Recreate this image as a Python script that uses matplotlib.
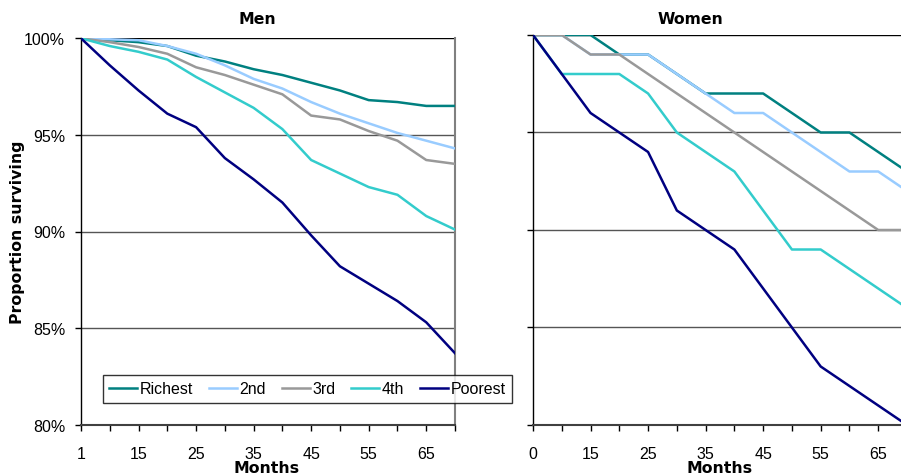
import numpy as np
import matplotlib.pyplot as plt

plt.rcParams['font.family'] = ['Liberation Sans', 'DejaVu Sans']

# categorias del eje x (eje de categorias estilo Excel)
meses_hombres = ['1', '10', '15', '20', '25', '30', '35', '40', '45', '50', '55', '60', '65', '70']
meses_mujeres = ['0', '10', '15', '20', '25', '30', '35', '40', '45', '50', '55', '60', '65', '70']

grupos = ['Richest', '2nd', '3rd', '4th', 'Poorest']
colores = ['#008080', '#99CCFF', '#999999', '#33CCCC', '#000080']

# proporcion sobreviviente (%) - hombres
hombres = {
    'Richest': [100, 99.9, 99.8, 99.6, 99.1, 98.8, 98.4, 98.1, 97.7, 97.3, 96.8, 96.7, 96.5, 96.5],
    '2nd':     [100, 99.95, 99.9, 99.6, 99.2, 98.6, 97.9, 97.4, 96.7, 96.1, 95.6, 95.1, 94.7, 94.3],
    '3rd':     [100, 99.8, 99.55, 99.2, 98.5, 98.1, 97.6, 97.1, 96.0, 95.8, 95.2, 94.7, 93.7, 93.5],
    '4th':     [100, 99.6, 99.3, 98.9, 98.0, 97.2, 96.4, 95.3, 93.7, 93.0, 92.3, 91.9, 90.8, 90.1],
    'Poorest': [100, 98.6, 97.3, 96.1, 95.4, 93.8, 92.7, 91.5, 89.8, 88.2, 87.3, 86.4, 85.3, 83.7],
}

# proporcion sobreviviente (%) - mujeres
mujeres = {
    'Richest': [100, 100, 100, 99, 99, 98, 97, 97, 97, 96, 95, 95, 94, 93],
    '2nd':     [100, 100, 99, 99, 99, 98, 97, 96, 96, 95, 94, 93, 93, 92],
    '3rd':     [100, 100, 99, 99, 98, 97, 96, 95, 94, 93, 92, 91, 90, 90],
    '4th':     [100, 98, 98, 98, 97, 95, 94, 93, 91, 89, 89, 88, 87, 86],
    'Poorest': [100, 98, 96, 95, 94, 91, 90, 89, 87, 85, 83, 82, 81, 80],
}

W, H = 901, 477
fig = plt.figure(figsize=(W / 100, H / 100), dpi=100)

ax1 = fig.add_axes([81 / W, 1 - 425.7 / H, 374 / W, 386.4 / H])
ax2 = fig.add_axes([533 / W, 1 - 426 / H, 374 / W, 390 / H])

negrita = dict(family='DejaVu Sans', fontweight='bold', fontsize=11.3)


def dibujar(ax, datos, etiquetas, con_ylabels):
    x = np.arange(len(etiquetas))
    for g, c in zip(grupos, colores):
        ax.plot(x, datos[g], color=c, lw=1.8, label=g, zorder=3)
    ax.set_xlim(0, len(etiquetas) - 1)
    ax.set_ylim(80, 100)
    ax.set_xticks(x)
    ax.set_xticklabels([e if (i % 2 == 0) else '' for i, e in enumerate(etiquetas)])
    ax.set_yticks([80, 85, 90, 95, 100])
    if con_ylabels:
        ax.set_yticklabels(['80%', '85%', '90%', '95%', '100%'])
    else:
        ax.set_yticklabels([])
    for v in [85, 90, 95]:
        ax.axhline(v, color='#555555', lw=1.0, zorder=1)
    ax.axhline(100, color='black', lw=1.0, zorder=1)
    ax.spines['top'].set_visible(False)
    ax.spines['left'].set_color('black')
    ax.spines['left'].set_linewidth(1.0)
    ax.spines['bottom'].set_color('#404040')
    ax.spines['bottom'].set_linewidth(1.5)
    ax.spines['right'].set_color('#808080')
    ax.spines['right'].set_linewidth(1.5)
    ax.tick_params(axis='both', direction='out', width=1, labelsize=11.5, colors='black')
    ax.tick_params(axis='x', length=4, pad=11)
    ax.tick_params(axis='y', length=4.5, pad=7)


dibujar(ax1, hombres, meses_hombres, True)
dibujar(ax2, mujeres, meses_mujeres, False)

fig.text(257 / W, 1 - 20 / H, 'Men', ha='center', va='center', **negrita)
fig.text(690 / W, 1 - 20 / H, 'Women', ha='center', va='center', **negrita)
fig.text(267 / W, 1 - 469 / H, 'Months', ha='center', va='center', **negrita)
fig.text(720 / W, 1 - 469 / H, 'Months', ha='center', va='center', **negrita)
fig.text(18 / W, 1 - 232 / H, 'Proportion surviving', ha='center', va='center',
         rotation=90, **negrita)

handles, labels = ax1.get_legend_handles_labels()
leg = fig.legend(handles, labels, loc='center', ncol=5,
                 bbox_to_anchor=(307.5 / W, 1 - 390 / H), fontsize=11.5,
                 frameon=True, fancybox=False, shadow=False,
                 handlelength=1.75, handletextpad=0.15, columnspacing=1.0,
                 borderpad=0.4, borderaxespad=0)
leg.get_frame().set_edgecolor('black')
leg.get_frame().set_linewidth(1.0)
leg.set_zorder(10)

fig.savefig('out.png', dpi=100)
